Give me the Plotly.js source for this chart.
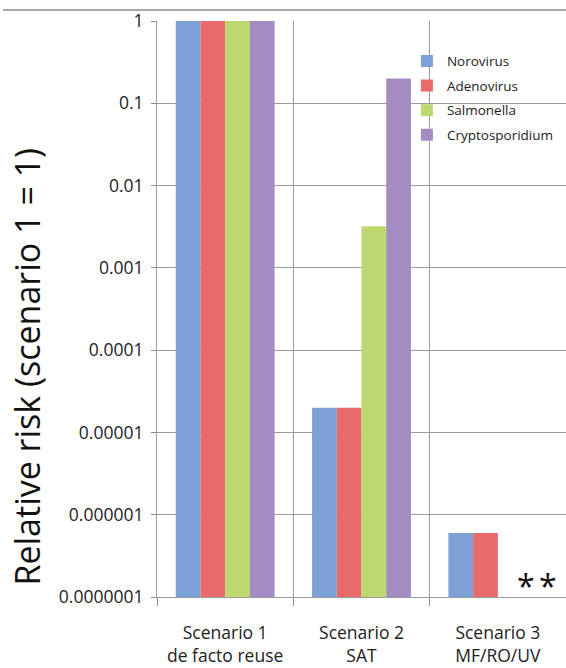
<!DOCTYPE html>
<html>
<head>
<meta charset="utf-8">
<script src="https://cdn.plot.ly/plotly-3.0.1.min.js"></script>
<style>body{margin:0;background:#fff}#chart{width:566px;height:668px}</style>
</head>
<body>
<div id="chart"></div>
<script>
const categories = ['Scenario 1<br>de facto reuse', 'Scenario 2<br>SAT', 'Scenario 3<br>MF/RO/UV'];
const seriesNames = ['Norovirus', 'Adenovirus', 'Salmonella', 'Cryptosporidium'];
const norovirus = [1, 2e-5, 6e-7];
const adenovirus = [1, 2e-5, 6e-7];
const salmonella = [1, 3.2e-3, null];
const cryptosporidium = [1, 0.2, null];
const tickValues = [1, 0.1, 0.01, 0.001, 0.0001, 0.00001, 0.000001, 0.0000001];
const tickLabels = ['1', '0.1', '0.01', '0.001', '0.0001', '0.00001', '0.000001', '0.0000001'];
const colors = ['#7ba1d6', '#e86a6a', '#bcd86f', '#a48cc3'];

const FONT = 'Open Sans, sans-serif';
const allSeries = [norovirus, adenovirus, salmonella, cryptosporidium];
const data = allSeries.map((vals, i) => ({
  type: 'bar',
  name: seriesNames[i],
  legendgroup: 'g' + i,
  x: categories,
  y: vals,
  marker: {color: colors[i], line: {width: 0}},
  hoverinfo: 'name+y'
}));

const layout = {
  width: 566, height: 668,
  margin: {l: 157, r: 0, t: 21, b: 71},
  paper_bgcolor: '#fff', plot_bgcolor: '#fff',
  barmode: 'group', bargap: 0.275, bargroupgap: 0,
  showlegend: true,
  legend: {
    x: 0.611, xanchor: 'left', y: 0.957, yanchor: 'top',
    bgcolor: 'rgba(255,255,255,0)', borderwidth: 0,
    font: {family: FONT, size: 13.5, color: '#222'},
    traceorder: 'grouped', tracegroupgap: 4
  },
  xaxis: {
    type: 'category',
    tickson: 'boundaries',
    ticks: 'outside', ticklen: 8, tickcolor: '#8c8c8c', tickwidth: 1,
    showgrid: true, gridcolor: '#9a9a9a', gridwidth: 1,
    showline: true, linecolor: '#9a9a9a', linewidth: 1, mirror: false,
    tickfont: {family: FONT, size: 17.5, color: '#222'},
    ticklabelstandoff: 20,
    range: [-0.5, 2.5],
    fixedrange: true
  },
  yaxis: {
    type: 'log',
    range: [-7, 0],
    tickvals: tickValues,
    ticktext: tickLabels,
    ticks: 'outside', ticklen: 5, tickcolor: '#8c8c8c',
    showgrid: true, gridcolor: '#9a9a9a', gridwidth: 1,
    showline: true, linecolor: '#9a9a9a', linewidth: 1,
    tickfont: {family: FONT, size: 17.5, color: '#222'},
    ticklabelstandoff: 4,
    zeroline: false,
    fixedrange: true
  },
  shapes: [
    {
      type: 'line', xref: 'paper', yref: 'paper',
      x0: -0.3765, x1: 1, y0: 1.0191, y1: 1.0191,
      line: {color: '#8c8c8c', width: 1.5}
    },
    {
      type: 'rect', xref: 'paper', yref: 'paper', layer: 'between',
      x0: 0.634, x1: 0.979, y0: 0.785, y1: 0.958,
      fillcolor: '#fff', line: {width: 0}
    }
  ],
  annotations: [
    {
      text: 'Relative risk (scenario 1 = 1)', textangle: -90,
      xref: 'paper', yref: 'paper', x: -0.318, y: 0.40,
      xanchor: 'center', yanchor: 'middle', showarrow: false,
      font: {family: FONT, size: 34, color: '#111'}
    },
    {
      text: '*', xref: 'x', x: categories[2], xshift: 28,
      yref: 'paper', y: -0.02, yanchor: 'bottom', showarrow: false,
      font: {family: FONT, size: 32, color: '#111'}
    },
    {
      text: '*', xref: 'x', x: categories[2], xshift: 50,
      yref: 'paper', y: -0.02, yanchor: 'bottom', showarrow: false,
      font: {family: FONT, size: 32, color: '#111'}
    }
  ]
};

Plotly.newPlot('chart', data, layout, {displayModeBar: false, staticPlot: true});
</script>
</body>
</html>
